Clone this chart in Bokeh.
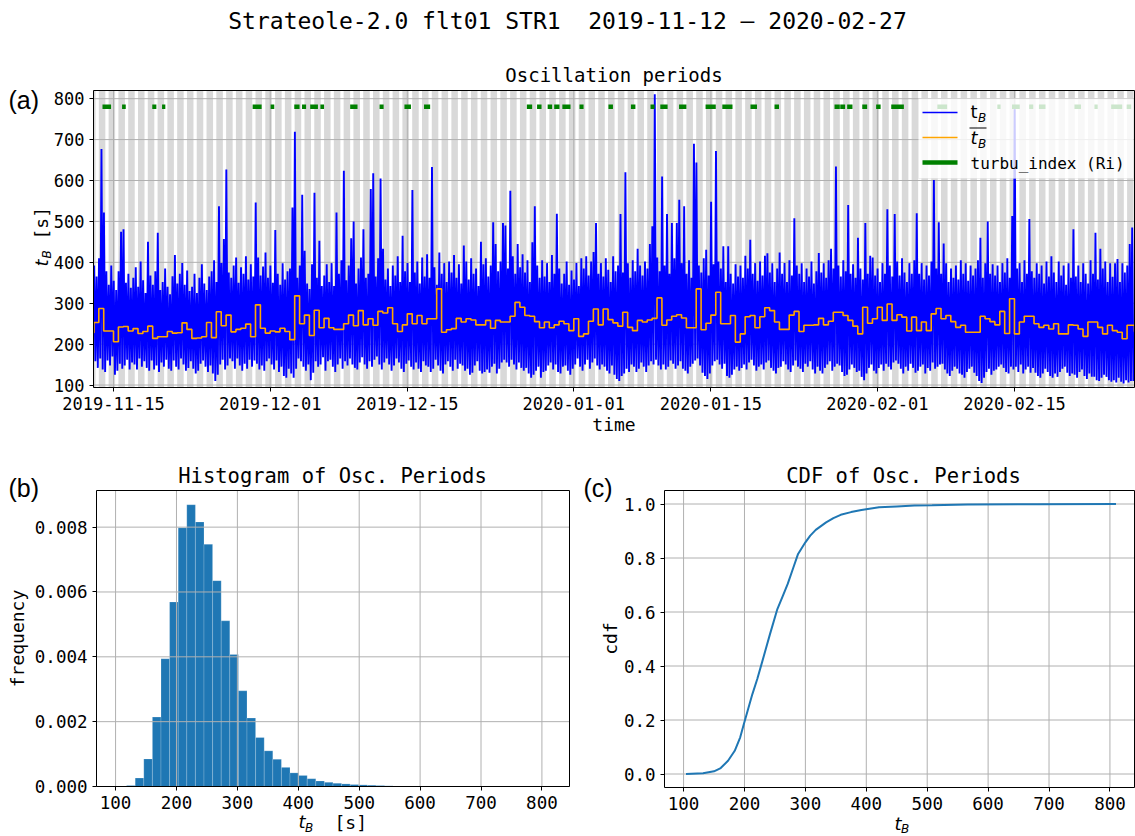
import math
import numpy as np
import pandas as pd
from bokeh.plotting import figure
from bokeh.layouts import column, row
from bokeh.models import (Range1d, FixedTicker, DatetimeTickFormatter, PrintfTickFormatter,
                          Label, BoxAnnotation)
from bokeh.embed import file_html
from bokeh.resources import INLINE

MONO = "DejaVu Sans Mono"
SANS = "DejaVu Sans"
ARIAL = "Liberation Sans"

# ------------------------------------------------------------------ data
suptitle = "Strateole-2.0 flt01 STR1\u00a0 2019-11-12 \u2013 2020-02-27"

# oscillation period t_B [s]: maximum / minimum inside consecutive 6-hour windows
series_start = "2019-11-12 23:00"
tb_hi = [
    392, 365, 410, 677, 522, 378, 345, 392,
    355, 332, 378, 475, 481, 350, 372, 338,
    362, 388, 340, 402, 356, 325, 450, 368,
    345, 378, 472, 332, 352, 385, 340, 322,
    366, 418, 348, 372, 398, 345, 380, 330,
    340, 372, 325, 362, 395, 348, 332, 365,
    378, 405, 352, 537, 398, 457, 627, 375,
    362, 392, 412, 350, 388, 372, 415, 358,
    395, 365, 546, 412, 368, 390, 424, 362,
    392, 350, 479, 372, 345, 398, 358, 378,
    385, 534, 719, 362, 392, 565, 428, 348,
    335, 395, 570, 362, 453, 342, 368, 395,
    352, 398, 342, 522, 372, 405, 624, 356,
    392, 459, 500, 348, 385, 412, 481, 362,
    372, 579, 618, 365, 410, 605, 433, 358,
    385, 342, 392, 368, 415, 352, 465, 378,
    398, 352, 577, 375, 402, 348, 412, 365,
    420, 362, 633, 388, 345, 424, 372, 398,
    352, 402, 375, 418, 362, 395, 348, 441,
    402, 358, 410, 372, 385, 342, 450, 395,
    410, 365, 392, 498, 445, 378, 402, 496,
    490, 385, 575, 415, 372, 445, 388, 420,
    375, 405, 352, 449, 537, 392, 362, 405,
    365, 398, 352, 418, 372, 519, 385, 348,
    372, 402, 345, 380, 358, 398, 342, 410,
    385, 415, 368, 402, 425, 496, 372, 398,
    365, 410, 382, 352, 415, 378, 392, 518,
    375, 620, 398, 362, 405, 378, 433, 392,
    368, 402, 385, 445, 488, 811, 412, 378,
    610, 392, 518, 372, 496, 410, 496, 553,
    398, 537, 372, 405, 362, 690, 644, 392,
    375, 410, 431, 368, 548, 395, 672, 402,
    385, 439, 352, 439, 372, 348, 395, 365,
    392, 362, 416, 385, 455, 372, 398, 355,
    402, 368, 416, 422, 375, 398, 352, 385,
    424, 372, 398, 352, 405, 368, 508, 392,
    372, 398, 352, 385, 365, 402, 348, 378,
    423, 375, 398, 362, 405, 433, 385, 634,
    392, 365, 405, 378, 540, 372, 395, 362,
    460, 385, 358, 496, 372, 416, 412, 368,
    385, 352, 398, 372, 530, 392, 365, 518,
    402, 368, 410, 375, 352, 398, 372, 405,
    520, 372, 398, 358, 392, 368, 402, 601,
    385, 498, 372, 446, 398, 352, 385, 362,
    392, 358, 405, 372, 398, 355, 392, 368,
    385, 405, 460, 362, 398, 500, 372, 395,
    368, 392, 352, 398, 375, 410, 362, 513,
    774, 385, 398, 352, 405, 372, 506, 378,
    362, 398, 372, 392, 348, 402, 365, 415,
    375, 352, 402, 368, 392, 345, 398, 362,
    481, 365, 392, 352, 398, 372, 348, 405,
    372, 472, 358, 433, 385, 402, 352, 398,
    365, 398, 408, 352, 398, 375, 392, 445,
    485, 378,
]
tb_lo = [
    158, 142, 165, 138, 132, 160, 148, 170,
    125, 135, 152, 140, 148, 162, 138, 155,
    150, 138, 165, 145, 158, 142, 135, 160,
    138, 148, 132, 155, 145, 162, 140, 135,
    160, 145, 138, 165, 150, 135, 142, 158,
    140, 128, 135, 152, 160, 145, 132, 148,
    128, 110, 125, 150, 162, 138, 148, 165,
    158, 140, 165, 148, 135, 152, 140, 162,
    145, 160, 152, 138, 148, 135, 158, 165,
    150, 138, 160, 132, 145, 122, 118, 140,
    128, 118, 140, 165, 158, 145, 135, 150,
    112, 130, 158, 145, 150, 168, 135, 158,
    162, 145, 132, 150, 165, 140, 158, 148,
    165, 150, 142, 138, 155, 168, 150, 140,
    158, 145, 162, 170, 150, 138, 155, 165,
    150, 135, 148, 165, 155, 140, 132, 152,
    160, 145, 138, 155, 140, 132, 158, 148,
    145, 132, 140, 162, 148, 135, 128, 150,
    158, 145, 135, 162, 140, 152, 148, 135,
    140, 125, 130, 148, 158, 135, 128, 132,
    138, 130, 145, 152, 128, 140, 155, 162,
    155, 145, 162, 150, 138, 155, 142, 135,
    142, 128, 118, 125, 135, 145, 118, 132,
    135, 148, 155, 138, 150, 132, 128, 145,
    148, 135, 125, 140, 150, 165, 145, 135,
    150, 162, 140, 155, 165, 148, 138, 150,
    145, 135, 128, 148, 125, 115, 110, 122,
    128, 140, 132, 150, 145, 132, 140, 155,
    145, 132, 148, 158, 150, 162, 148, 138,
    150, 138, 145, 160, 152, 140, 148, 158,
    140, 135, 128, 145, 152, 160, 165, 148,
    130, 122, 115, 128, 148, 158, 162, 150,
    140, 152, 122, 118, 125, 138, 145, 135,
    142, 150, 138, 155, 162, 148, 135, 145,
    150, 138, 155, 160, 142, 135, 128, 142,
    145, 158, 150, 138, 132, 148, 160, 145,
    140, 132, 152, 145, 158, 138, 128, 145,
    135, 128, 142, 150, 158, 135, 145, 152,
    148, 132, 122, 125, 138, 150, 142, 132,
    135, 120, 112, 128, 142, 150, 135, 128,
    142, 150, 135, 152, 145, 138, 155, 160,
    152, 140, 128, 145, 135, 152, 142, 130,
    135, 145, 150, 128, 142, 135, 155, 140,
    145, 150, 152, 138, 128, 122, 135, 145,
    140, 128, 125, 118, 132, 140, 145, 130,
    122, 110, 105, 118, 132, 140, 125, 135,
    138, 145, 150, 142, 132, 128, 145, 138,
    145, 132, 150, 128, 138, 145, 130, 142,
    130, 122, 118, 128, 140, 132, 122, 118,
    128, 120, 132, 140, 145, 130, 122, 128,
    125, 118, 132, 138, 122, 115, 128, 120,
    120, 112, 110, 118, 125, 120, 112, 108,
    112, 106, 118, 108, 104, 112, 106, 110,
    110, 118,
]

# 12-hour mean of t_B [s]
mean_start = "2019-11-12 12:00"
tb_mean = [
    228, 253, 287, 232, 232, 206, 242, 243, 232, 238,
    226, 231, 244, 214, 218, 218, 231, 227, 228, 252,
    236, 214, 215, 218, 253, 216, 279, 245, 271, 230,
    236, 239, 249, 218, 296, 239, 227, 232, 230, 239,
    231, 211, 318, 250, 271, 221, 283, 240, 263, 240,
    236, 236, 250, 271, 245, 282, 247, 262, 246, 280,
    276, 289, 250, 231, 247, 274, 250, 270, 250, 262,
    262, 335, 229, 235, 238, 263, 254, 262, 259, 247,
    247, 258, 239, 258, 254, 254, 268, 302, 290, 270,
    268, 255, 240, 254, 240, 247, 256, 250, 233, 262,
    219, 225, 256, 286, 247, 286, 260, 252, 244, 278,
    241, 233, 258, 254, 259, 263, 313, 246, 259, 268,
    272, 264, 240, 240, 335, 235, 251, 271, 327, 250,
    250, 270, 205, 225, 267, 270, 240, 267, 289, 282,
    254, 236, 236, 271, 280, 231, 246, 246, 247, 263,
    247, 256, 278, 278, 270, 258, 244, 225, 290, 251,
    262, 290, 258, 298, 258, 272, 266, 232, 266, 233,
    254, 233, 274, 287, 262, 270, 255, 241, 246, 229,
    229, 229, 268, 262, 255, 247, 280, 226, 311, 225,
    254, 268, 268, 250, 241, 246, 237, 250, 225, 225,
    247, 246, 237, 219, 254, 254, 241, 225, 246, 233,
    229, 213, 246, 246, 230,
]

# turbulence index (Richardson number) episodes
turbu_start = [
    "2019-11-13 21:00", "2019-11-15 21:00", "2019-11-18 23:00", "2019-11-19 23:00",
    "2019-11-29 05:00", "2019-12-01 01:00", "2019-12-03 11:00", "2019-12-04 06:00",
    "2019-12-05 02:00", "2019-12-06 03:00", "2019-12-09 04:00", "2019-12-12 04:00",
    "2019-12-14 17:00", "2019-12-16 17:00", "2019-12-27 05:00", "2019-12-28 06:00",
    "2019-12-29 08:00", "2019-12-30 00:00", "2019-12-30 20:00", "2020-01-01 14:00",
    "2020-01-04 13:00", "2020-01-06 20:00", "2020-01-08 20:00", "2020-01-09 20:00",
    "2020-01-11 18:00", "2020-01-14 11:00", "2020-01-16 04:00", "2020-01-19 01:00",
    "2020-01-21 12:00", "2020-01-27 15:00", "2020-01-28 05:00", "2020-01-28 22:00",
    "2020-01-30 11:00", "2020-01-31 21:00", "2020-02-02 10:00", "2020-02-07 03:00",
    "2020-02-13 06:00", "2020-02-14 18:00", "2020-02-16 12:00", "2020-02-17 12:00",
    "2020-02-21 03:00", "2020-02-23 04:00", "2020-02-24 21:00", "2020-02-26 11:00",
]
turbu_end = [
    "2019-11-14 18:00", "2019-11-16 06:00", "2019-11-19 09:00", "2019-11-20 07:00",
    "2019-11-30 03:00", "2019-12-01 10:00", "2019-12-04 00:00", "2019-12-04 16:00",
    "2019-12-05 21:00", "2019-12-06 12:00", "2019-12-09 22:00", "2019-12-12 14:00",
    "2019-12-15 09:00", "2019-12-17 08:00", "2019-12-27 18:00", "2019-12-28 17:00",
    "2019-12-29 19:00", "2019-12-30 13:00", "2019-12-31 16:00", "2020-01-02 00:00",
    "2020-01-05 00:00", "2020-01-07 07:00", "2020-01-09 06:00", "2020-01-10 14:00",
    "2020-01-12 12:00", "2020-01-15 12:00", "2020-01-17 05:00", "2020-01-19 17:00",
    "2020-01-21 23:00", "2020-01-28 04:00", "2020-01-28 17:00", "2020-01-29 11:00",
    "2020-01-30 23:00", "2020-02-01 08:00", "2020-02-03 17:00", "2020-02-08 03:00",
    "2020-02-13 14:00", "2020-02-15 13:00", "2020-02-16 22:00", "2020-02-18 04:00",
    "2020-02-21 19:00", "2020-02-23 12:00", "2020-02-26 00:00", "2020-02-26 22:00",
]
turbu_level = 780

# shaded (night) part of every day, UTC hours
shade_days = pd.date_range("2019-11-11", "2020-02-28", freq="D")
shade_from_hour, shade_to_hour = 12, 28

date_ticks = ["2019-11-15", "2019-12-01", "2019-12-15", "2020-01-01",
              "2020-01-15", "2020-02-01", "2020-02-15"]
tb_ticks = [100, 200, 300, 400, 500, 600, 700, 800]
freq_ticks = [0.0, 0.002, 0.004, 0.006, 0.008]
cdf_ticks = [0.0, 0.2, 0.4, 0.6, 0.8, 1.0]

# histogram of t_B (density), 50 bins between the extreme values
hist_range = (104, 810)
hist_density = [
    0.00001, 0.00003, 0.00026, 0.00085, 0.00214, 0.00394, 0.00569, 0.00798, 0.00869, 0.00816,
    0.00747, 0.00635, 0.00511, 0.00407, 0.00295, 0.00211, 0.00151, 0.00110, 0.00084, 0.00059,
    0.00042, 0.00034, 0.00024, 0.00017, 0.00013, 0.00010, 0.00008, 0.00006, 0.00005, 0.00004,
    0.00003, 0.00002, 0.000015, 0.00001, 0.00001, 0.000006, 0.000005, 0.000004, 0.000003, 0.000003,
    0.000002, 0.000002, 0.000001, 0.000001, 0.000001, 0.000001, 0.0, 0.000001, 0.0, 0.000001,
]

# empirical cumulative distribution of t_B
cdf_tb = [104, 132, 150, 161, 173, 184, 193, 199, 206, 213, 221, 228, 235, 242, 254,
          263, 271, 280, 288, 300, 308, 317, 334, 346, 358, 375, 392, 421, 450, 479,
          508, 566, 681, 810]
cdf_val = [0.0, 0.0025, 0.010, 0.022, 0.049, 0.086, 0.136, 0.185, 0.241, 0.296, 0.352,
           0.407, 0.463, 0.519, 0.611, 0.660, 0.704, 0.763, 0.815, 0.858, 0.883, 0.904,
           0.932, 0.948, 0.960, 0.970, 0.978, 0.988, 0.991, 0.994, 0.995, 0.998, 0.999, 1.0]


# ------------------------------------------------------------------ helpers
def ms(s):
    return pd.Timestamp(s).value / 1e6


def panel(cw, ch, ox, oy, box, xr, yr, **kw):
    """Figure whose frame fills the canvas; `box` (page px: left, top, right, bottom)
    is where the data window xr x yr is drawn. Returns figure and page-px -> data maps."""
    bl, bt, br, bb = box[0] - ox, box[1] - oy, box[2] - ox, box[3] - oy
    sx = (xr[1] - xr[0]) / (br - bl)
    sy = (yr[1] - yr[0]) / (bb - bt)
    xs, xe = xr[0] - bl * sx, xr[1] + (cw - br) * sx
    ys, ye = yr[0] - (ch - bb) * sy, yr[1] + bt * sy
    p = figure(width=cw, height=ch, x_range=Range1d(xs, xe), y_range=Range1d(ys, ye),
               min_border=0, output_backend="svg", toolbar_location=None, title=None, **kw)
    p.outline_line_color = None
    p.background_fill_color = "white"
    p.border_fill_color = "white"
    p.grid.visible = False

    def X(px):
        return xs + (px - ox) * sx

    def Y(py):
        return ye - (py - oy) * sy
    return p, X, Y


def axes(p, xr, yr, xticks, yticks, tick_size):
    p.xaxis.fixed_location = yr[0]
    p.yaxis.fixed_location = xr[0]
    p.xaxis.ticker = FixedTicker(ticks=xticks)
    p.yaxis.ticker = FixedTicker(ticks=yticks)
    for ax in (p.xaxis[0], p.yaxis[0]):
        ax.major_label_text_font = MONO
        ax.major_label_text_font_size = tick_size
        ax.major_label_text_color = "black"
        ax.axis_line_color = None
        ax.major_tick_line_color = "black"
        ax.major_tick_line_width = 1
        ax.major_tick_out = 4
        ax.major_tick_in = 0
        ax.minor_tick_line_color = None
        ax.major_label_standoff = 5
    # grid
    p.segment(x0=xticks, y0=yr[0], x1=xticks, y1=yr[1], color="#b0b0b0",
              line_width=1, level="underlay")
    p.segment(x0=xr[0], y0=yticks, x1=xr[1], y1=yticks, color="#b0b0b0",
              line_width=1, level="underlay")


def frame_box(p, xr, yr):
    p.quad(left=[xr[0]], right=[xr[1]], bottom=[yr[0]], top=[yr[1]],
           fill_color=None, line_color="black", line_width=1, level="guide")


def put(p, x, y, text, size, font=MONO, align="center", baseline="middle",
        angle=0.0, style_="normal", color="black", level="annotation"):
    p.add_layout(Label(x=x, y=y, text=text, text_font=font, text_font_size=f"{size}px",
                       text_align=align, text_baseline=baseline, angle=angle,
                       text_font_style=style_, text_color=color, level=level))


# ------------------------------------------------------------------ (a) time series
T0 = pd.Timestamp("2019-11-12 22:58")
PX_DAY = 9.793
BOX1 = (93, 90, 1134, 387)
T1 = T0 + pd.Timedelta(days=(BOX1[2] - BOX1[0]) / PX_DAY)
XR1 = (T0.value / 1e6, T1.value / 1e6)
YR1 = (94, 820)

p1, tx, ty = panel(1135, 440, 0, 0, BOX1, XR1, YR1, x_axis_type="datetime")
tick_ms = [ms(d) for d in date_ticks]
axes(p1, XR1, YR1, tick_ms, tb_ticks, "17px")
fmt = "%Y-%m-%d"
p1.xaxis.formatter = DatetimeTickFormatter(days=fmt, months=fmt, years=fmt, hours=fmt,
                                           hourmin=fmt, minutes=fmt)

sh_l = [ms(d + pd.Timedelta(hours=shade_from_hour)) for d in shade_days]
sh_r = [ms(d + pd.Timedelta(hours=shade_to_hour)) for d in shade_days]
p1.quad(left=[min(max(v, XR1[0]), XR1[1]) for v in sh_l],
        right=[min(max(v, XR1[0]), XR1[1]) for v in sh_r],
        bottom=YR1[0], top=YR1[1], fill_color="#d9d9d9", line_color=None, level="image")

# t_B trace: each 6-hour window drawn from its maximum down to its minimum
s0 = pd.Timestamp(series_start)
bx, by = [], []
for i, (hi, lo) in enumerate(zip(tb_hi, tb_lo)):
    t = s0 + pd.Timedelta(hours=6 * i)
    for dt, v in ((1.5, hi), (4.5, lo)):
        x = ms(t + pd.Timedelta(hours=dt))
        if x <= XR1[1]:
            bx.append(x)
            by.append(v)
p1.line(bx, by, color="#0000ff", line_width=1.9)

# 12-hour mean as a step line
m0 = pd.Timestamp(mean_start)
mx = [min(max(ms(m0 + pd.Timedelta(hours=12 * k)), XR1[0]), XR1[1])
      for k in range(len(tb_mean) + 1)]
my = list(tb_mean) + [tb_mean[-1]]
p1.step(mx, my, mode="after", color="#ffa500", line_width=1.6)

# turbulence flags
p1.segment(x0=[ms(s) for s in turbu_start], y0=turbu_level,
           x1=[ms(s) for s in turbu_end], y1=turbu_level,
           color="#008000", line_width=4.5)
frame_box(p1, XR1, YR1)

# legend
p1.add_layout(BoxAnnotation(left=tx(918), right=tx(1133), top=ty(98), bottom=ty(178),
                            fill_color="white", fill_alpha=0.8,
                            line_color="#cccccc", line_width=1, level="annotation"))
p1.line([tx(922), tx(957)], [ty(112), ty(112)], color="#0000ff", line_width=1.5, level="overlay")
p1.line([tx(922), tx(957)], [ty(137), ty(137)], color="#ffa500", line_width=1.5, level="overlay")
p1.line([tx(922), tx(957)], [ty(162), ty(162)], color="#008000", line_width=4.5, level="overlay")
put(p1, tx(970), ty(111), "t", 18, font=SANS, align="left", level="overlay")
put(p1, tx(977.5), ty(117), "B", 12, font=SANS, align="left", style_="italic", level="overlay")
put(p1, tx(970), ty(137), "t", 18, font=SANS, align="left", style_="italic", level="overlay")
put(p1, tx(977.5), ty(143), "B", 12, font=SANS, align="left", style_="italic", level="overlay")
p1.line([tx(969), tx(986)], [ty(127.5), ty(127.5)], color="black", line_width=1, level="overlay")
put(p1, tx(970), ty(163), "turbu_index (Ri)", 16, align="left", level="overlay")

# titles and axis labels
put(p1, tx(567), ty(20), suptitle, 23)
put(p1, tx(613.5), ty(74), "Oscillation periods", 19)
put(p1, tx(8), ty(99), "(a)", 25, font=ARIAL, align="left")
put(p1, tx(613.5), ty(424), "time", 18)
put(p1, tx(41), ty(266), "t", 18, font=SANS, align="left", angle=math.pi / 2, style_="italic")
put(p1, tx(46), ty(258), "B", 12, font=SANS, align="left", angle=math.pi / 2, style_="italic")
put(p1, tx(41), ty(239), "[s]", 18, align="left", angle=math.pi / 2)

# ------------------------------------------------------------------ (b) histogram
BOX2 = (96, 490, 569, 786)
XR2 = (68.7, 845.3)
YR2 = (0.0, 0.00913)
p2, hx, hy = panel(575, 396, 0, 440, BOX2, XR2, YR2)
axes(p2, XR2, YR2, tb_ticks, freq_ticks, "17.5px")
p2.yaxis.formatter = PrintfTickFormatter(format="%.3f")
edges = np.linspace(hist_range[0], hist_range[1], len(hist_density) + 1)
p2.quad(left=edges[:-1], right=edges[1:], bottom=0, top=hist_density,
        fill_color="#1f77b4", line_color="white", line_alpha=0.3, line_width=0.6,
        level="image")
frame_box(p2, XR2, YR2)

put(p2, hx(8), hy(487), "(b)", 25, font=ARIAL, align="left")
put(p2, hx(332), hy(475), "Histogram of Osc. Periods", 20.5)
put(p2, hx(17), hy(638), "frequency", 18, angle=math.pi / 2)
put(p2, hx(298), hy(821), "t", 18, font=SANS, align="left", style_="italic")
put(p2, hx(304.5), hy(827), "B", 12, font=SANS, align="left", style_="italic")
put(p2, hx(334), hy(822), "[s]", 18, align="left")

# ------------------------------------------------------------------ (c) CDF
BOX3 = (664, 490, 1134, 787)
XR3 = (68.7, 68.7 + (BOX3[2] - BOX3[0]) / 0.6091)
YR3 = (-0.05, 1.05)
p3, cx, cy = panel(560, 396, 575, 440, BOX3, XR3, YR3)
axes(p3, XR3, YR3, tb_ticks, cdf_ticks, "17.5px")
p3.yaxis.formatter = PrintfTickFormatter(format="%.1f")
p3.line(cdf_tb, cdf_val, color="#1f77b4", line_width=2)
frame_box(p3, XR3, YR3)

put(p3, cx(583), cy(487), "(c)", 25, font=ARIAL, align="left")
put(p3, cx(903), cy(475), "CDF of Osc. Periods", 20.5)
put(p3, cx(610), cy(638), "cdf", 18, angle=math.pi / 2)
put(p3, cx(894), cy(823), "t", 18, font=SANS, align="left", style_="italic")
put(p3, cx(900.5), cy(828), "B", 12, font=SANS, align="left", style_="italic")

layout = column(p1, row(p2, p3))
open("out.html", "w").write(file_html(layout, INLINE))
